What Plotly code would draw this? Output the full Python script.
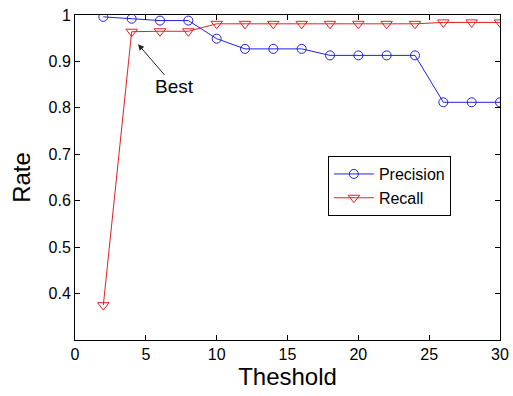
import plotly.graph_objects as go

thresholds = [2, 4, 6, 8, 10, 12, 14, 16, 18, 20, 22, 24, 26, 28, 30]
precision = [0.996, 0.992, 0.988, 0.988, 0.949, 0.927, 0.927, 0.927, 0.913, 0.913, 0.913, 0.913, 0.812, 0.812, 0.812]
recall = [0.375, 0.964, 0.965, 0.965, 0.981, 0.981, 0.981, 0.981, 0.981, 0.981, 0.981, 0.981, 0.984, 0.984, 0.984]
x_ticks = [0, 5, 10, 15, 20, 25, 30]
y_ticks = [0.4, 0.5, 0.6, 0.7, 0.8, 0.9, 1]
y_tick_labels = ["0.4", "0.5", "0.6", "0.7", "0.8", "0.9", "1"]

font = "Liberation Sans, Arial, sans-serif"

fig = go.Figure()
fig.add_trace(go.Scatter(
    x=thresholds, y=precision, name="Precision", mode="lines+markers",
    line=dict(color="#2020e0", width=1),
    marker=dict(symbol="circle-open", size=9, color="#2020e0", line=dict(width=1)),
))
fig.add_trace(go.Scatter(
    x=thresholds, y=recall, name="Recall", mode="lines+markers",
    line=dict(color="#e02020", width=1),
    marker=dict(symbol="triangle-down-open", size=10, color="#e02020", line=dict(width=1)),
))

fig.add_annotation(
    x=4.45, y=0.937, xref="x", yref="y",
    ax=7.05, ay=0.845, axref="x", ayref="y",
    text="Best", showarrow=True, arrowhead=2, arrowsize=1.2, arrowwidth=1,
    arrowcolor="#222", font=dict(family=font, size=19, color="black"),
)

axis_common = dict(
    showline=True, linecolor="black", linewidth=1, mirror="ticks",
    ticks="inside", ticklen=5, tickcolor="black", showgrid=False, zeroline=False,
    tickfont=dict(family=font, size=16, color="black"), automargin=False,
)

fig.update_layout(
    width=513, height=396,
    margin=dict(l=75, r=13, t=15, b=56),
    paper_bgcolor="white", plot_bgcolor="white",
    showlegend=True,
    legend=dict(
        x=0.595, y=0.566, xanchor="left", yanchor="top",
        bordercolor="black", borderwidth=1, bgcolor="white",
        font=dict(family=font, size=16, color="black"),
        tracegroupgap=0, itemwidth=40,
    ),
    xaxis=dict(range=[0, 30], tickvals=x_ticks, **axis_common,
               title=dict(text="Theshold", font=dict(family=font, size=24, color="black"), standoff=2)),
    yaxis=dict(range=[0.3, 1], tickvals=y_ticks, ticktext=y_tick_labels, **axis_common,
               title=dict(text="Rate", font=dict(family=font, size=24, color="black"), standoff=11)),
)

fig.write_html("out.html")
